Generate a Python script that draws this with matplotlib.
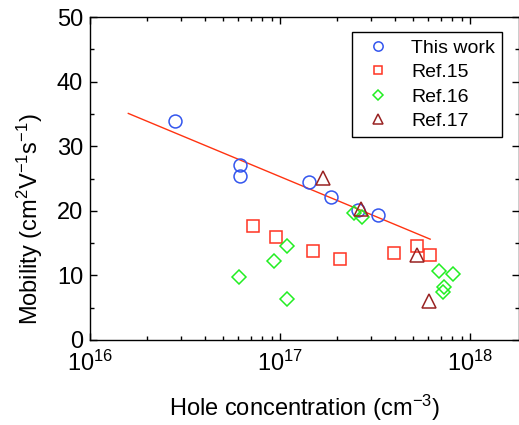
import matplotlib
matplotlib.use('Agg')
import matplotlib.pyplot as plt
from matplotlib import rc
from matplotlib.ticker import MultipleLocator, LogLocator, NullFormatter
import numpy as np

rc('font', family=['Liberation Sans', 'DejaVu Sans'])
rc('mathtext', fontset='custom', rm='Liberation Sans', it='Liberation Sans')

# hole concentration (cm^-3) and mobility (cm^2/Vs)
this_work_p = [2.81e16, 6.14e16, 6.14e16, 1.41e17, 1.85e17, 2.57e17, 3.27e17]
this_work_mu = [33.9, 27.1, 25.4, 24.4, 22.2, 20.05, 19.4]

ref15_p = [7.23e16, 9.49e16, 1.49e17, 2.07e17, 3.96e17, 5.22e17, 6.12e17]
ref15_mu = [17.7, 16.0, 13.8, 12.5, 13.4, 14.5, 13.2]

ref16_p = [6.04e16, 9.29e16, 1.08e17, 1.09e17, 2.44e17, 2.70e17,
           6.82e17, 8.13e17, 7.26e17, 7.16e17]
ref16_mu = [9.7, 12.2, 14.5, 6.4, 19.6, 19.1, 10.7, 10.2, 8.2, 7.4]

ref17_p = [1.68e17, 2.66e17, 5.22e17, 6.04e17]
ref17_mu = [25.1, 20.3, 13.2, 6.0]

fit_range = [1.59e16, 6.14e17]

fig = plt.figure(figsize=(5.19, 4.25), dpi=100)
ax = fig.add_axes([90 / 519, 85 / 425, 429 / 519, 323 / 425])

# linear fit of mobility vs log10(p)
coef = np.polyfit(np.log10(this_work_p), this_work_mu, 1)
xf = np.logspace(np.log10(fit_range[0]), np.log10(fit_range[1]), 50)
ax.plot(xf, np.polyval(coef, np.log10(xf)), color='#ff3311', lw=1.0, zorder=1)

ax.plot(this_work_p, this_work_mu, 'o', ms=9.3, mfc='none', mec='#3355ee', mew=1.1, label='This work')
ax.plot(ref15_p, ref15_mu, 's', ms=8.2, mfc='none', mec='#ff3322', mew=1.1, label='Ref.15')
ax.plot(ref16_p, ref16_mu, 'D', ms=7.6, mfc='none', mec='#22ee22', mew=1.1, label='Ref.16')
ax.plot(ref17_p, ref17_mu, '^', ms=10.5, mfc='none', mec='#992222', mew=1.1, label='Ref.17')

ax.set_xscale('log')
ax.set_xlim(1e16, 1.8e18)
ax.set_ylim(0, 50)
ax.yaxis.set_major_locator(MultipleLocator(10))
ax.yaxis.set_minor_locator(MultipleLocator(5))
ax.xaxis.set_major_locator(LogLocator(base=10, numticks=5))
ax.xaxis.set_minor_locator(LogLocator(base=10, subs=np.arange(2, 10), numticks=10))
ax.xaxis.set_minor_formatter(NullFormatter())

ax.tick_params(which='both', direction='in', top=True, right=True, labelsize=17)
ax.tick_params(axis='x', pad=8)
ax.tick_params(axis='y', pad=5)
ax.tick_params(which='major', length=5, width=1)
ax.tick_params(which='minor', length=3, width=1)
for s in ax.spines.values():
    s.set_linewidth(1.0)

ax.set_xlabel('Hole concentration (cm$^{-3}$)', fontsize=17, labelpad=12)
ax.set_ylabel('Mobility (cm$^{2}$V$^{-1}$s$^{-1}$)', fontsize=17)
ax.yaxis.set_label_coords(-0.105, 0.375)

leg = ax.legend(loc='upper left', bbox_to_anchor=(0.611, 0.954), fontsize=14, frameon=True,
                fancybox=False, edgecolor='black', framealpha=1, handletextpad=0.75,
                handlelength=1.9, borderpad=0.38, labelspacing=0.35, markerscale=0.72,
                borderaxespad=0, numpoints=1)
leg.get_frame().set_linewidth(1.0)

fig.savefig('out.png', dpi=100)
